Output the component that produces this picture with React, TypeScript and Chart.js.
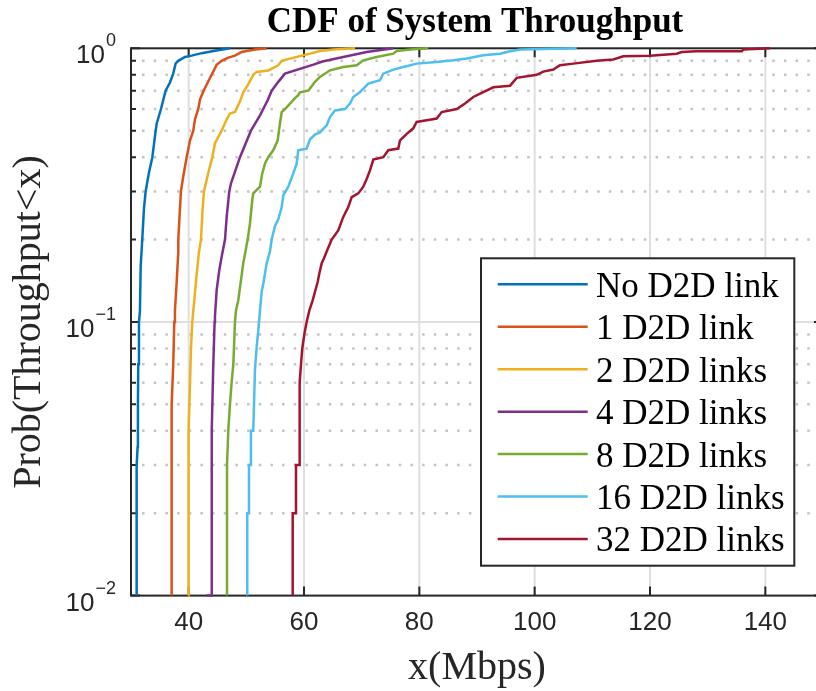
import React, { useEffect, useRef } from "react";
import { Chart, registerables } from "chart.js";

Chart.register(...registerables);

// ---------- data (x = throughput in Mbps, p = Prob(Throughput<x)) ----------
const noD2D: [number, number][] = [
  [30.98, 0.01], [30.98, 0.03], [31.15, 0.035], [31.2, 0.05], [31.26, 0.07], [31.38, 0.1],
  [31.55, 0.11], [31.68, 0.16], [31.95, 0.2], [32.25, 0.26], [32.54, 0.3], [33.1, 0.35],
  [33.7, 0.4], [34.28, 0.5], [34.45, 0.53], [35.2, 0.6], [36.0, 0.7], [36.76, 0.75],
  [37.33, 0.81], [37.75, 0.88], [38.2, 0.9], [39.36, 0.93], [40.52, 0.94], [42.25, 0.96],
  [44.56, 0.98], [47.17, 1.0],
];
const d2d1: [number, number][] = [
  [37.05, 0.01], [37.05, 0.05], [37.33, 0.07], [37.5, 0.1], [37.62, 0.11], [37.92, 0.14],
  [38.2, 0.18], [38.2, 0.2], [38.49, 0.26], [38.66, 0.3], [39.06, 0.34], [39.65, 0.4],
  [40.23, 0.46], [40.8, 0.5], [41.09, 0.55], [41.67, 0.6], [41.96, 0.65], [42.6, 0.7],
  [43.3, 0.75], [44.1, 0.81], [44.85, 0.87], [45.72, 0.9], [46.87, 0.925], [48.03, 0.94],
  [49.19, 0.97], [51.5, 0.99], [53.53, 1.0],
];
const d2d2: [number, number][] = [
  [39.93, 0.01], [39.93, 0.03], [40.05, 0.04], [40.23, 0.06], [40.4, 0.08], [40.63, 0.1],
  [40.97, 0.12], [41.39, 0.15], [41.79, 0.18], [42.13, 0.2], [42.43, 0.26], [42.65, 0.3],
  [43.4, 0.35], [44.1, 0.4], [44.56, 0.45], [45.72, 0.5], [46.59, 0.55], [47.16, 0.578],
  [48.03, 0.585], [48.9, 0.64], [49.47, 0.69], [50.34, 0.74], [51.2, 0.8], [51.79, 0.82],
  [53.8, 0.83], [55.54, 0.867], [56.13, 0.9], [57.57, 0.917], [59.88, 0.943], [61.04, 0.956],
  [62.77, 0.978], [65.08, 0.99], [68.85, 1.0],
];
const d2d4: [number, number][] = [
  [43.1, 0.01], [44.0, 0.01], [44.0, 0.04], [44.27, 0.07], [44.5, 0.1], [44.56, 0.105],
  [44.86, 0.131], [45.3, 0.154], [45.72, 0.173], [46.3, 0.2], [46.59, 0.242], [47.04, 0.3],
  [47.34, 0.321], [48.9, 0.4], [50.8, 0.5], [52.37, 0.569], [53.7, 0.646], [54.4, 0.7],
  [55.54, 0.754], [56.7, 0.808], [61.5, 0.87], [63.2, 0.895], [66.81, 0.929], [70.87, 0.969],
  [75.48, 1.0],
];
const d2d8: [number, number][] = [
  [46.65, 0.01], [46.65, 0.03], [46.87, 0.04], [47.16, 0.05], [47.45, 0.06], [47.74, 0.07],
  [48.03, 0.1], [48.2, 0.11], [48.6, 0.12], [49.07, 0.142], [49.47, 0.164], [49.89, 0.183],
  [50.23, 0.2], [50.63, 0.229], [51.03, 0.279], [51.2, 0.295], [52.37, 0.312], [52.76, 0.349],
  [53.23, 0.379], [53.8, 0.4], [54.67, 0.424], [55.44, 0.461], [55.66, 0.5], [55.83, 0.531],
  [56.13, 0.585], [56.7, 0.6], [58.44, 0.658], [59.0, 0.674], [59.3, 0.69], [60.74, 0.7],
  [61.04, 0.713], [61.9, 0.754], [62.77, 0.786], [64.5, 0.831], [66.81, 0.855], [69.14, 0.867],
  [70.28, 0.904], [72.6, 0.929], [75.48, 0.956], [76.07, 0.978], [78.38, 0.99], [81.55, 1.0],
];
const d2d16: [number, number][] = [
  [50.16, 0.01], [50.16, 0.02], [50.46, 0.02], [50.46, 0.03], [50.8, 0.03], [50.8, 0.04],
  [51.2, 0.04], [51.5, 0.067], [51.79, 0.081], [52.07, 0.093], [52.37, 0.11], [52.66, 0.129],
  [52.94, 0.138], [53.53, 0.164], [54.1, 0.181], [54.4, 0.2], [54.97, 0.2245], [55.54, 0.237],
  [56.13, 0.263], [56.41, 0.29], [57.27, 0.312], [58.14, 0.349], [58.73, 0.379], [59.0, 0.424],
  [60.46, 0.43], [61.04, 0.465], [61.9, 0.484], [62.77, 0.493], [63.93, 0.523], [64.51, 0.561],
  [65.37, 0.593], [67.11, 0.6], [67.98, 0.628], [68.55, 0.664], [69.71, 0.692], [71.15, 0.743],
  [73.18, 0.764], [73.75, 0.808], [75.48, 0.836], [77.22, 0.855], [79.54, 0.879], [83.0, 0.891],
  [85.89, 0.904], [88.21, 0.917], [91.09, 0.943], [93.99, 0.956], [95.72, 0.975], [97.46, 0.99],
  [107.29, 1.0],
];
const d2d32: [number, number][] = [
  [58.04, 0.01], [58.04, 0.02], [58.61, 0.02], [58.61, 0.03], [59.19, 0.03], [59.19, 0.04],
  [59.3, 0.06], [59.48, 0.07], [59.7, 0.08], [60.05, 0.09], [60.46, 0.1], [60.92, 0.11],
  [61.5, 0.12], [62.37, 0.14], [62.65, 0.15], [63.07, 0.164], [63.47, 0.171], [63.93, 0.181],
  [64.8, 0.2], [65.94, 0.216], [66.81, 0.242], [67.68, 0.263], [68.27, 0.286], [69.41, 0.295],
  [70.28, 0.312], [70.87, 0.333], [71.44, 0.358], [72.02, 0.392], [73.75, 0.4], [74.62, 0.424],
  [76.35, 0.43], [76.65, 0.461], [77.81, 0.487], [78.95, 0.51], [79.54, 0.538], [81.28, 0.546],
  [83.01, 0.554], [83.88, 0.585], [86.48, 0.6], [87.92, 0.628], [89.36, 0.664], [91.09, 0.692],
  [92.83, 0.72], [95.72, 0.73], [96.3, 0.754], [96.89, 0.78], [100.35, 0.8], [101.5, 0.822],
  [103.23, 0.836], [104.39, 0.867], [106.7, 0.879], [110.76, 0.9], [113.64, 0.91], [115.37, 0.935],
  [120.0, 0.94], [124.63, 0.956], [125.5, 0.969], [128.1, 0.975], [135.93, 0.975], [136.18, 0.99],
  [140.8, 1.0],
];

const seriesData = [noD2D, d2d1, d2d2, d2d4, d2d8, d2d16, d2d32];
const seriesLabels = [
  "No D2D link", "1 D2D link", "2 D2D links", "4 D2D links",
  "8 D2D links", "16 D2D links", "32 D2D links",
];
const seriesColors = ["#0072BD", "#D95319", "#EDB120", "#7E2F8E", "#77AC30", "#4DBEEE", "#A2142F"];

const xRange = [30, 150];
const yRange = [0.01, 1];
const xTicks = [40, 60, 80, 100, 120, 140];
const yMajorTicks = [0.01, 0.1, 1];
const yTickExponents = ["\u22122", "\u22121", "0"];
const yMinorTicks = [0.02, 0.03, 0.04, 0.05, 0.06, 0.07, 0.08, 0.09, 0.2, 0.3, 0.4, 0.5, 0.6, 0.7, 0.8, 0.9];

const titleText = "CDF of System Throughput";
const xLabelText = "x(Mbps)";
const yLabelText = "Prob(Throughput<x)";

const SERIF = '"Liberation Serif", "Times New Roman", serif';
const SANS = '"Liberation Sans", Arial, Helvetica, sans-serif';
const AXIS = "#262626";

const matlabPlugin = {
  id: "matlabAxes",
  beforeDatasetsDraw(chart: any) {
    const { ctx, chartArea: a, scales } = chart;
    const xs = scales.x;
    const ys = scales.y;
    ctx.save();
    // minor dotted grid
    ctx.strokeStyle = "#c4c4c4";
    ctx.lineWidth = 2.5;
    ctx.lineCap = "butt";
    ctx.setLineDash([2.5, 9.17]);
    for (const v of yMinorTicks) {
      const y = ys.getPixelForValue(v);
      ctx.beginPath();
      ctx.moveTo(a.left + 11.05, y);
      ctx.lineTo(a.right, y);
      ctx.stroke();
    }
    ctx.setLineDash([]);
    // major grid
    ctx.strokeStyle = "#dfdfdf";
    ctx.lineWidth = 2;
    for (const v of xTicks) {
      const x = xs.getPixelForValue(v);
      ctx.beginPath();
      ctx.moveTo(x, a.top);
      ctx.lineTo(x, a.bottom);
      ctx.stroke();
    }
    for (const v of yMajorTicks) {
      if (v === yRange[0] || v === yRange[1]) continue;
      const y = ys.getPixelForValue(v);
      ctx.beginPath();
      ctx.moveTo(a.left, y);
      ctx.lineTo(a.right, y);
      ctx.stroke();
    }
    // box
    ctx.strokeStyle = AXIS;
    ctx.lineWidth = 2;
    ctx.strokeRect(a.left, a.top, a.right - a.left, a.bottom - a.top);
    // tick marks (inward)
    ctx.beginPath();
    for (const v of xTicks) {
      const x = xs.getPixelForValue(v);
      ctx.moveTo(x, a.bottom);
      ctx.lineTo(x, a.bottom - 9);
      ctx.moveTo(x, a.top);
      ctx.lineTo(x, a.top + 9);
    }
    for (const v of yMajorTicks) {
      const y = ys.getPixelForValue(v);
      ctx.moveTo(a.left, y);
      ctx.lineTo(a.left + 9, y);
      ctx.moveTo(a.right, y);
      ctx.lineTo(a.right - 9, y);
    }
    for (const v of yMinorTicks) {
      const y = ys.getPixelForValue(v);
      ctx.moveTo(a.left, y);
      ctx.lineTo(a.left + 5, y);
      ctx.moveTo(a.right, y);
      ctx.lineTo(a.right - 5, y);
    }
    ctx.stroke();
    ctx.restore();
  },
  afterDraw(chart: any) {
    const { ctx, chartArea: a, scales } = chart;
    const xs = scales.x;
    const ys = scales.y;
    ctx.save();
    // x tick labels
    ctx.fillStyle = AXIS;
    ctx.font = `26px ${SANS}`;
    ctx.textAlign = "center";
    ctx.textBaseline = "alphabetic";
    for (const v of xTicks) {
      ctx.fillText(String(v), xs.getPixelForValue(v), a.bottom + 34.4);
    }
    // y tick labels 10^k
    yMajorTicks.forEach((v, i) => {
      const y = ys.getPixelForValue(v);
      const exp = yTickExponents[i];
      ctx.font = `18px ${SANS}`;
      ctx.textAlign = "right";
      const right = 116;
      ctx.fillText(exp, right, y - 2);
      const w = ctx.measureText(exp).width;
      ctx.font = `26px ${SANS}`;
      ctx.fillText("10", right - w - 1, y + 15);
    });
    // title
    ctx.fillStyle = "#000";
    ctx.font = `bold 35px ${SERIF}`;
    ctx.textAlign = "center";
    ctx.fillText(titleText, 475, 31.7);
    // axis labels
    ctx.fillStyle = AXIS;
    ctx.font = `40px ${SERIF}`;
    ctx.fillText(xLabelText, (a.left + a.right) / 2, 679);
    ctx.save();
    ctx.translate(40, (a.top + a.bottom) / 2);
    ctx.rotate(-Math.PI / 2);
    ctx.fillText(yLabelText, 0, 0);
    ctx.restore();
    // legend
    const lx = 481, ly = 258.3, lw = 313.3, lh = 307.4;
    ctx.fillStyle = "#ffffff";
    ctx.fillRect(lx, ly, lw, lh);
    ctx.strokeStyle = AXIS;
    ctx.lineWidth = 2;
    ctx.strokeRect(lx, ly, lw, lh);
    ctx.font = `35px ${SERIF}`;
    ctx.textAlign = "left";
    seriesLabels.forEach((label, i) => {
      const cy = 284.3 + i * 42.45;
      ctx.strokeStyle = seriesColors[i];
      ctx.lineWidth = 2.5;
      ctx.beginPath();
      ctx.moveTo(497.7, cy);
      ctx.lineTo(587.7, cy);
      ctx.stroke();
      ctx.fillStyle = "#000";
      ctx.fillText(label, 596, cy + 12.4);
    });
    ctx.restore();
  },
};

export default function App() {
  const canvasRef = useRef<HTMLCanvasElement | null>(null);

  useEffect(() => {
    if (!canvasRef.current) return;
    const chart = new Chart(canvasRef.current, {
      type: "scatter",
      data: {
        datasets: seriesData.map((pts, i) => ({
          label: seriesLabels[i],
          data: pts.map(([x, y]) => ({ x, y })),
          showLine: true,
          borderColor: seriesColors[i],
          backgroundColor: seriesColors[i],
          borderWidth: 2.5,
          pointRadius: 0,
          pointHoverRadius: 0,
          tension: 0,
          fill: false,
          clip: false,
        })),
      },
      options: {
        responsive: false,
        maintainAspectRatio: false,
        animation: false,
        devicePixelRatio: 1,
        events: [],
        layout: { padding: { left: 131, top: 48.3, right: 7, bottom: 95.4 } },
        plugins: {
          legend: { display: false },
          title: { display: false },
          tooltip: { enabled: false },
        },
        scales: {
          x: { type: "linear", min: xRange[0], max: xRange[1], display: false },
          y: { type: "logarithmic", min: yRange[0], max: yRange[1], display: false },
        },
      },
      plugins: [matlabPlugin],
    } as any);
    return () => chart.destroy();
  }, []);

  return (
    <div
      style={{
        position: "fixed",
        left: 0,
        top: 0,
        width: 816,
        height: 691,
        overflow: "hidden",
        background: "#ffffff",
      }}
    >
      <canvas ref={canvasRef} width={830} height={691} style={{ display: "block", width: 830, height: 691 }} />
    </div>
  );
}
